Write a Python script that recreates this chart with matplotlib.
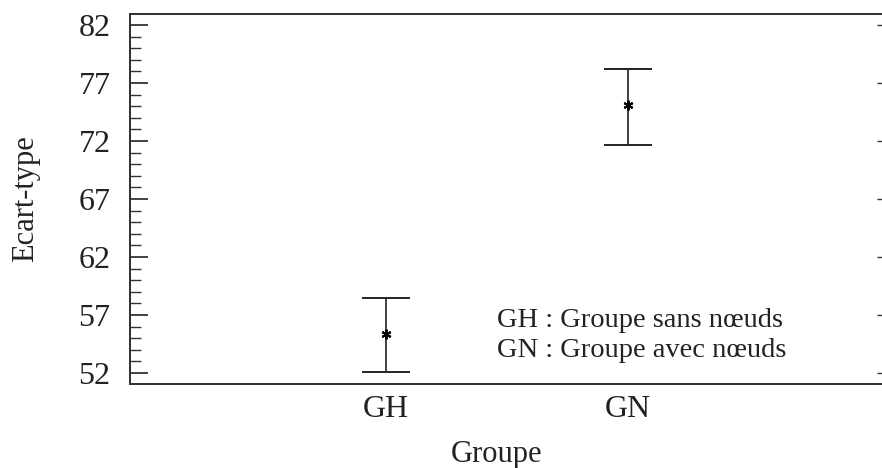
import matplotlib
matplotlib.use("Agg")
import matplotlib.pyplot as plt
from matplotlib.ticker import MultipleLocator

# Data
groups = ["GH", "GN"]
means = [55.4, 75.1]
lower_err = [3.3, 3.45]
upper_err = [3.05, 3.1]
legend_lines = ["GH : Groupe sans nœuds", "GN : Groupe avec nœuds"]
yticks = [52, 57, 62, 67, 72, 77, 82]

plt.rcParams['font.family'] = ['Liberation Serif', 'DejaVu Serif']

W, H = 882, 468
fig = plt.figure(figsize=(W/100, H/100), dpi=100)
ax = fig.add_axes([130/W, 1 - 384/H, (884-130)/W, (384-14)/H])

pos = [1, 2]
ax.errorbar(pos, means, yerr=[lower_err, upper_err], fmt='none',
            ecolor='#222222', elinewidth=1.2, capsize=17, capthick=1.4)
ax.plot(pos, means, linestyle='none', marker=(6, 2, 0), markersize=7,
        color='black', markeredgewidth=1.5)

ax.set_xlim(-0.06, 3.06)
ax.set_ylim(51.05, 82.95)
ax.set_xticks(pos)
ax.set_xticklabels(groups)
ax.set_yticks(yticks)
ax.yaxis.set_minor_locator(MultipleLocator(1))

ax.tick_params(axis='x', length=0, labelsize=23, pad=8, colors='#222222')
ax.tick_params(axis='y', which='major', direction='in', length=13, width=1.2,
               labelsize=23, left=True, right=False, pad=14, colors='#222222')
ax.tick_params(axis='y', which='minor', direction='in', length=8, width=1.0,
               left=True, right=False, colors='#333333')

# short major ticks on the right side
axr = ax.twinx()
axr.set_ylim(ax.get_ylim())
axr.set_yticks(yticks)
axr.tick_params(axis='y', direction='in', length=5, width=1.0,
                labelright=False, colors='#333333')

for a in (ax, axr):
    for s in a.spines.values():
        s.set_color('#333333')
        s.set_linewidth(1.4)

ax.set_xlabel("Groupe", fontsize=22, color='#222222')
ax.xaxis.set_label_coords((497 - 130) / 754, (384 - 440) / 370)
ax.set_ylabel("Ecart-type", fontsize=22, color='#222222')
ax.yaxis.set_label_coords((40 - 130) / 754, 0.5)

ax.text(1.46, 56.55, legend_lines[0], fontsize=20.5, va='center', ha='left', color='#222222')
ax.text(1.46, 53.95, legend_lines[1], fontsize=20.5, va='center', ha='left', color='#222222')

fig.savefig("out.png", dpi=100)
